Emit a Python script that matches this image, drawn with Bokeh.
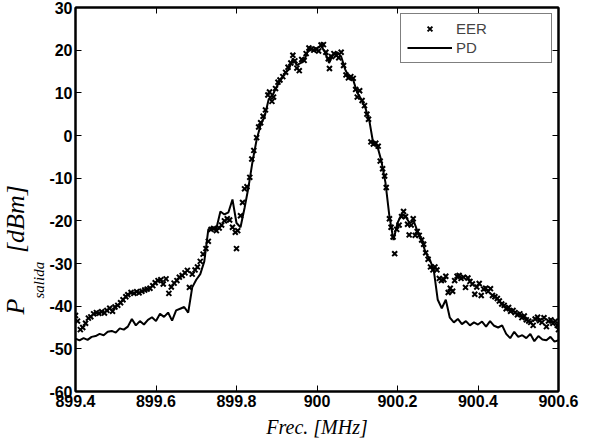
from bokeh.plotting import figure
from bokeh.models import LinearAxis, FixedTicker, Legend, LegendItem, Range1d, Title
from bokeh.embed import file_html
from bokeh.resources import INLINE

# ---- data ----
pd_freq = [899.40, 899.41, 899.42, 899.43, 899.44, 899.45, 899.46, 899.47, 899.48, 899.49,
           899.50, 899.51, 899.52, 899.53, 899.54, 899.55, 899.56, 899.57, 899.58, 899.59,
           899.60, 899.61, 899.62, 899.63, 899.64, 899.65, 899.66, 899.67, 899.68, 899.69,
           899.70, 899.71, 899.72, 899.73, 899.74, 899.75, 899.76, 899.77, 899.78, 899.79,
           899.80, 899.81, 899.82, 899.83, 899.84, 899.85, 899.86, 899.87, 899.88, 899.89,
           899.90, 899.91, 899.92, 899.93, 899.94, 899.95, 899.96, 899.97, 899.98, 899.99,
           900.00, 900.01, 900.02, 900.03, 900.04, 900.05, 900.06, 900.07, 900.08, 900.09,
           900.10, 900.11, 900.12, 900.13, 900.14, 900.15, 900.16, 900.17, 900.18, 900.19,
           900.20, 900.21, 900.22, 900.23, 900.24, 900.25, 900.26, 900.27, 900.28, 900.29,
           900.30, 900.31, 900.32, 900.33, 900.34, 900.35, 900.36, 900.37, 900.38, 900.39,
           900.40, 900.41, 900.42, 900.43, 900.44, 900.45, 900.46, 900.47, 900.48, 900.49,
           900.50, 900.51, 900.52, 900.53, 900.54, 900.55, 900.56, 900.57, 900.58, 900.59,
           900.60]
pd_power = [-47.6, -48.0, -47.5, -47.9, -47.2, -47.0, -46.5, -46.8, -46.0, -45.8,
            -46.2, -45.2, -45.5, -44.8, -43.0, -44.5, -43.5, -44.3, -43.2, -42.6,
            -43.5, -41.8, -42.5, -41.5, -43.4, -41.0, -40.6, -40.2, -41.5, -35.6,
            -33.8, -32.5, -29.5, -22.0, -21.5, -21.8, -17.8, -18.5, -18.0, -15.0,
            -20.5, -21.5, -17.0, -12.0, -6.0, -1.0, 2.5, 4.5, 8.5, 9.5,
            11.5, 13.0, 14.5, 15.5, 18.0, 16.5, 17.0, 18.0, 20.5, 20.0,
            20.5, 21.0, 19.5, 17.0, 19.0, 19.5, 18.5, 15.5, 13.5, 13.0,
            10.0, 8.5, 6.5, 3.5, -2.0, -2.5, -6.0, -11.0, -19.0, -24.5,
            -20.5, -18.5, -19.0, -20.5, -20.0, -22.5, -24.5, -27.5, -29.0, -31.5,
            -38.5, -40.5, -38.5, -42.7, -43.8, -43.0, -44.2, -43.5, -44.5, -43.8,
            -44.3, -43.6, -44.8, -43.5, -44.6, -45.0, -44.5, -46.5, -47.5, -46.0,
            -47.2, -46.8, -47.5, -46.5, -48.2, -47.0, -47.8, -48.0, -47.2, -48.3,
            -48.0]

eer_freq = [899.400, 899.405, 899.412, 899.418, 899.425, 899.432, 899.438, 899.445, 899.452, 899.458,
            899.465, 899.472, 899.478, 899.485, 899.492, 899.498, 899.505, 899.512, 899.518, 899.525,
            899.530, 899.538, 899.545, 899.552, 899.558, 899.565, 899.572, 899.578, 899.585, 899.592,
            899.598, 899.605, 899.612, 899.618, 899.625, 899.632, 899.638, 899.645, 899.652, 899.658,
            899.665, 899.672, 899.678, 899.683, 899.690, 899.697, 899.703, 899.710, 899.717, 899.724,
            899.730, 899.737, 899.743, 899.750, 899.757, 899.763, 899.770, 899.777, 899.783, 899.790,
            899.797, 899.800, 899.803, 899.810, 899.815, 899.820, 899.826, 899.833, 899.838, 899.843,
            899.850, 899.855, 899.860, 899.866, 899.872, 899.878, 899.882, 899.888, 899.892, 899.897,
            899.903, 899.908, 899.915, 899.922, 899.928, 899.935, 899.940, 899.945, 899.950, 899.956,
            899.962, 899.968, 899.973, 899.980, 899.986, 899.992, 899.998, 900.004, 900.010, 900.016,
            900.022, 900.028, 900.031, 900.036, 900.042, 900.048, 900.054, 900.060, 900.066, 900.072,
            900.078, 900.084, 900.090, 900.096, 900.100, 900.106, 900.112, 900.118, 900.124, 900.128,
            900.134, 900.140, 900.146, 900.152, 900.157, 900.163, 900.168, 900.172, 900.180, 900.184,
            900.189, 900.193, 900.198, 900.204, 900.210, 900.215, 900.220, 900.225, 900.229, 900.234,
            900.239, 900.244, 900.249, 900.254, 900.260, 900.265, 900.270, 900.276, 900.282, 900.288,
            900.293, 900.298, 900.304, 900.309, 900.315, 900.320, 900.326, 900.331, 900.337, 900.342,
            900.348, 900.353, 900.358, 900.364, 900.369, 900.375, 900.380, 900.386, 900.392, 900.397,
            900.403, 900.408, 900.414, 900.419, 900.425, 900.431, 900.436, 900.442, 900.448, 900.453,
            900.459, 900.465, 900.470, 900.476, 900.481, 900.487, 900.492, 900.498, 900.504, 900.509,
            900.515, 900.520, 900.526, 900.531, 900.537, 900.542, 900.548, 900.553, 900.559, 900.564,
            900.570, 900.575, 900.581, 900.586, 900.592, 900.597, 900.600]
eer_power = [-42.2, -43.5, -45.5, -45.0, -44.0, -42.8, -42.5, -41.8, -41.5, -41.7,
             -41.3, -41.6, -41.0, -40.5, -41.2, -40.2, -39.8, -39.2, -38.5, -37.8,
             -37.3, -36.8, -37.0, -36.6, -36.9, -36.5, -36.2, -36.0, -35.8, -35.2,
             -34.5, -34.0, -33.8, -34.8, -33.6, -37.0, -35.5, -34.6, -34.0, -33.2,
             -32.8, -32.2, -31.6, -35.6, -32.5, -31.5, -30.8, -29.5, -27.8, -26.5,
             -24.8, -22.0, -21.8, -22.3, -21.7, -21.0, -20.0, -19.5, -19.8, -21.5,
             -22.7, -26.5, -22.3, -18.8, -15.7, -12.5, -12.0, -9.8, -5.5, -3.5,
             -0.5, 2.0, 3.0, 4.5, 6.0, 9.5, 10.2, 8.0, 9.0, 11.0,
             12.5, 13.0, 13.8, 14.8, 16.0, 17.0, 18.8, 17.5, 15.8, 15.2,
             17.8, 17.6, 19.2, 20.5, 20.3, 20.0, 20.2, 19.8, 21.2, 21.3,
             19.5, 18.0, 15.7, 18.5, 19.2, 18.8, 18.2, 19.5, 16.4, 14.2,
             13.5, 13.8, 13.4, 10.8, 9.0, 10.5, 8.2, 7.0, 5.0, 3.8,
             -1.5, -2.0, -1.8, -2.5, -6.0, -7.8, -9.5, -12.2, -19.5, -21.5,
             -23.8, -27.7, -22.0, -21.0, -19.0, -17.8, -19.0, -20.8, -23.3, -21.0,
             -19.5, -23.4, -22.5, -23.4, -24.5, -25.5, -27.5, -29.0, -30.8, -31.5,
             -30.8, -31.5, -33.5, -34.0, -33.8, -33.0, -36.8, -35.8, -36.5, -34.0,
             -33.0, -32.8, -33.5, -33.2, -35.6, -33.4, -34.2, -34.8, -37.2, -35.5,
             -34.7, -37.5, -36.0, -35.8, -36.5, -35.9, -37.5, -37.8, -38.2, -38.8,
             -39.5, -39.8, -40.6, -40.3, -41.2, -41.0, -41.5, -42.0, -41.8, -42.7,
             -42.3, -43.2, -43.5, -43.8, -44.5, -43.0, -42.6, -43.4, -43.8, -42.7,
             -44.8, -43.5, -43.2, -44.0, -43.5, -44.5, -45.5]

x_ticks = [899.4, 899.6, 899.8, 900.0, 900.2, 900.4, 900.6]
x_tick_labels = ["899.4", "899.6", "899.8", "900", "900.2", "900.4", "900.6"]
y_ticks = [-60, -50, -40, -30, -20, -10, 0, 10, 20, 30]
y_tick_labels = ["-60", "-50", "-40", "-30", "-20", "-10", "0", "10", "20", "30"]

# ---- figure ----
W, H = 592, 441
p = figure(width=W, height=H, output_backend="svg", toolbar_location=None,
           x_range=Range1d(899.4, 900.6), y_range=Range1d(-60, 30),
           min_border_left=73, min_border_right=34, min_border_top=7, min_border_bottom=50,
           x_axis_type=None, y_axis_type=None)
p.grid.visible = False
p.outline_line_color = "black"
p.outline_line_width = 2
p.background_fill_color = "white"
p.border_fill_color = "white"

TICK_FONT = "Liberation Sans"
SERIF = "Liberation Serif"

def style_axis(ax, ticks, labels, show_labels):
    ax.ticker = FixedTicker(ticks=ticks)
    ax.axis_line_color = "black"
    ax.axis_line_width = 2
    ax.major_tick_in = 6
    ax.major_tick_out = 0
    ax.major_tick_line_width = 1
    ax.minor_tick_line_color = None
    if show_labels:
        ax.major_label_overrides = {t: l for t, l in zip(ticks, labels)}
        ax.major_label_text_font = TICK_FONT
        ax.major_label_text_font_style = "bold"
        ax.major_label_text_font_size = "16px"
        ax.major_label_text_color = "black"
        ax.major_label_standoff = 3
    else:
        ax.major_label_text_font_size = "0px"
        ax.major_label_text_color = None
        ax.major_label_standoff = 0

xb = LinearAxis(); style_axis(xb, x_ticks, x_tick_labels, True)
xb.axis_label = "Frec. [MHz]"
xb.axis_label_text_font = SERIF
xb.axis_label_text_font_style = "italic"
xb.axis_label_text_font_size = "20px"
xb.axis_label_text_color = "black"
xb.axis_label_standoff = 6
p.add_layout(xb, "below")
xa = LinearAxis(); style_axis(xa, x_ticks, x_tick_labels, False); p.add_layout(xa, "above")
yl = LinearAxis(); style_axis(yl, y_ticks, y_tick_labels, True); p.add_layout(yl, "left")
yr = LinearAxis(); style_axis(yr, y_ticks, y_tick_labels, False); p.add_layout(yr, "right")

# y-axis title: subscript column next to the axis, main text column outside it
p.add_layout(Title(text="salida", align="left", offset=93, standoff=0,
                   text_font=SERIF, text_font_style="italic", text_font_size="15px",
                   text_color="black"), "left")
p.add_layout(Title(text="P\u2002\u2002\u2002\u2005[dBm]", align="left", offset=77, standoff=-3,
                   text_font=SERIF, text_font_style="italic", text_font_size="26px",
                   text_color="black"), "left")

r_pd = p.line(pd_freq, pd_power, line_color="black", line_width=2)
r_eer = p.scatter(eer_freq, eer_power, marker="x", size=7, line_color="black", line_width=2)

legend = Legend(items=[LegendItem(label="EER", renderers=[r_eer]),
                       LegendItem(label="PD", renderers=[r_pd])],
                location="top_right", margin=6, padding=6, spacing=2,
                glyph_width=45, glyph_height=17, label_height=17, label_width=89,
                label_standoff=4, label_text_font=TICK_FONT, label_text_font_size="15px",
                border_line_color="black", border_line_width=1,
                background_fill_color="white", background_fill_alpha=1.0)
p.add_layout(legend, "center")

open("out.html", "w").write(file_html(p, INLINE))
